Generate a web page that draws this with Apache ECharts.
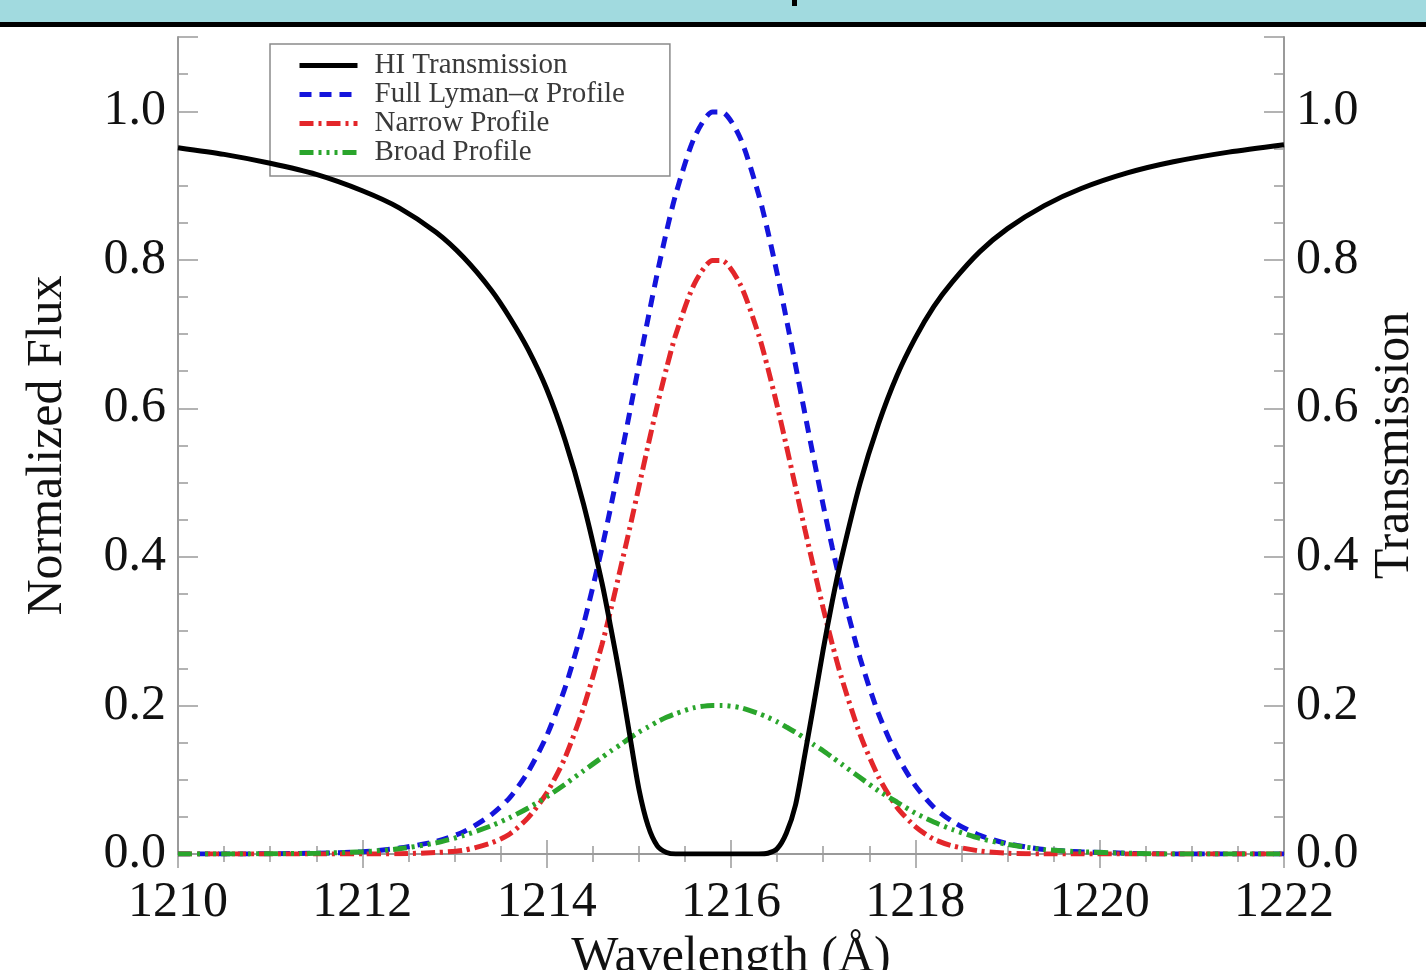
<!DOCTYPE html>
<html>
<head>
<meta charset="utf-8">
<script src="https://cdn.jsdelivr.net/npm/echarts@6/dist/echarts.min.js"></script>
<style>
  html, body { margin: 0; padding: 0; background: #fff; }
  #chart { width: 1426px; height: 970px; }
</style>
</head>
<body>
<div id="chart"></div>
<script>
// wavelength grid (Å), denser near the line core
const wavelength = [
  1210, 1210.5, 1211, 1211.5, 1212, 1212.4, 1212.8, 1213.1, 1213.4, 1213.6,
  1213.8, 1214.0, 1214.2, 1214.4, 1214.6, 1214.7, 1214.8, 1214.9, 1215.0, 1215.1,
  1215.2, 1215.3, 1215.4, 1215.6, 1215.8, 1215.9, 1216.1, 1216.3, 1216.4, 1216.5,
  1216.6, 1216.7, 1216.8, 1216.9, 1217.0, 1217.1, 1217.2, 1217.4, 1217.6, 1217.8,
  1218.0, 1218.2, 1218.4, 1218.7, 1219.0, 1219.4, 1219.8, 1220.3, 1220.8, 1221.4,
  1222
];

const hiTransmission = [
  0.951, 0.942, 0.930, 0.915, 0.893, 0.870, 0.837, 0.803, 0.759, 0.722,
  0.679, 0.626, 0.557, 0.471, 0.365, 0.302, 0.235, 0.161, 0.088, 0.038,
  0.011, 0.002, 0.000, 0.000, 0.000, 0.000, 0.000, 0.000, 0.001, 0.007,
  0.028, 0.066, 0.133, 0.203, 0.275, 0.341, 0.399, 0.499, 0.579, 0.644,
  0.695, 0.737, 0.770, 0.811, 0.842, 0.873, 0.896, 0.917, 0.932, 0.945,
  0.955
];

const fullProfile = [
  0, 0, 0.0003, 0.001, 0.003, 0.008, 0.017, 0.030, 0.053, 0.076,
  0.111, 0.159, 0.224, 0.309, 0.412, 0.470, 0.531, 0.594, 0.658, 0.721,
  0.782, 0.838, 0.888, 0.964, 0.999, 0.999, 0.964, 0.888, 0.838, 0.782,
  0.721, 0.658, 0.594, 0.531, 0.470, 0.412, 0.358, 0.264, 0.189, 0.133,
  0.092, 0.063, 0.044, 0.025, 0.014, 0.006, 0.003, 0.001, 0, 0,
  0
];

const narrowProfile = [
  0, 0, 0, 0, 0, 0.0003, 0.002, 0.005, 0.015, 0.027,
  0.049, 0.082, 0.130, 0.197, 0.282, 0.331, 0.384, 0.438, 0.494, 0.550,
  0.604, 0.654, 0.699, 0.767, 0.799, 0.799, 0.767, 0.699, 0.654, 0.604,
  0.550, 0.494, 0.438, 0.384, 0.331, 0.282, 0.237, 0.161, 0.104, 0.063,
  0.037, 0.020, 0.011, 0.004, 0.001, 0, 0, 0, 0, 0,
  0
];

const broadProfile = [
  0, 0, 0.0003, 0.001, 0.003, 0.007, 0.015, 0.025, 0.038, 0.049,
  0.062, 0.077, 0.094, 0.112, 0.130, 0.139, 0.147, 0.156, 0.164, 0.171,
  0.178, 0.184, 0.189, 0.197, 0.200, 0.200, 0.197, 0.189, 0.184, 0.178,
  0.171, 0.164, 0.156, 0.147, 0.139, 0.130, 0.121, 0.103, 0.085, 0.070,
  0.055, 0.043, 0.033, 0.021, 0.013, 0.006, 0.003, 0.001, 0, 0,
  0
];

const seriesNames = ["HI Transmission", "Full Lyman\u2013\u03b1 Profile", "Narrow Profile", "Broad Profile"];

const FONT = "Liberation Serif";
const AXIS_GRAY = "#9a9a9a";

function pairs(values) {
  return wavelength.map((w, i) => [w, values[i]]);
}

const chart = echarts.init(document.getElementById("chart"));

const xAxisBase = {
  type: "value",
  min: 1210,
  max: 1222,
  interval: 2,
  axisLine: { show: true, lineStyle: { color: AXIS_GRAY, width: 2 } },
  axisTick: { show: true, inside: true, length: 14, lineStyle: { color: AXIS_GRAY, width: 1.5 } },
  minorTick: { show: true, splitNumber: 4, length: 8, lineStyle: { color: AXIS_GRAY, width: 1.5 } },
  splitLine: { show: false },
};

const yAxisBase = {
  type: "value",
  min: 0,
  max: 1.1,
  interval: 0.2,
  axisLine: { show: true, lineStyle: { color: AXIS_GRAY, width: 2 } },
  axisTick: { show: true, inside: true, length: 20, lineStyle: { color: AXIS_GRAY, width: 1.5 } },
  minorTick: { show: true, splitNumber: 4, length: 10, lineStyle: { color: AXIS_GRAY, width: 1.5 } },
  splitLine: { show: false },
  axisLabel: {
    fontFamily: FONT,
    fontSize: 50,
    color: "#111",
    margin: 12,
    showMaxLabel: false,
    formatter: (v) => v.toFixed(1),
  },
  nameLocation: "middle",
  nameRotate: 90,
  nameTextStyle: { fontFamily: FONT, fontSize: 50, color: "#111" },
};

const option = {
  animation: false,
  backgroundColor: "#fff",
  graphic: [
    { type: "rect", left: 0, top: 0, shape: { width: 1426, height: 22 }, style: { fill: "#a1dadf" } },
    { type: "rect", left: 0, top: 22, shape: { width: 1426, height: 5 }, style: { fill: "#000" } },
    { type: "rect", left: 792, top: 0, shape: { width: 5, height: 6 }, style: { fill: "#000" } },
  ],
  grid: {
    left: 178,
    right: 142,
    top: 37,
    bottom: 116,
    containLabel: false,
    outerBoundsMode: "none",
  },
  legend: {
    data: seriesNames,
    orient: "vertical",
    left: 270,
    top: 44,
    itemWidth: 58,
    itemHeight: 10,
    itemGap: 0,
    padding: [7, 45, 9, 27],
    backgroundColor: "#fff",
    borderColor: "#8a8a8a",
    borderWidth: 1.5,
    borderRadius: 0,
    itemStyle: { opacity: 0 },
    lineStyle: { width: 5 },
    textStyle: {
      fontFamily: FONT,
      fontSize: 29,
      lineHeight: 29,
      color: "#3a3a3a",
      padding: [0, 0, 0, 12],
    },
  },
  xAxis: [
    Object.assign({}, xAxisBase, {
      position: "bottom",
      axisLabel: {
        fontFamily: FONT,
        fontSize: 50,
        color: "#111",
        margin: 24,
        formatter: (v) => String(v),
      },
      name: "Wavelength (\u00c5)",
      nameLocation: "middle",
      nameGap: 71,
      nameTextStyle: { fontFamily: FONT, fontSize: 50, color: "#111" },
    }),
    Object.assign({}, xAxisBase, {
      position: "top",
      axisLabel: { show: false },
    }),
  ],
  yAxis: [
    Object.assign({}, yAxisBase, { position: "left", name: "Normalized Flux", nameGap: 105 }),
    Object.assign({}, yAxisBase, { position: "right", name: "Transmission", nameGap: 84 }),
  ],
  series: [
    {
      name: seriesNames[0],
      type: "line",
      yAxisIndex: 1,
      data: pairs(hiTransmission),
      symbol: "none",
      smooth: 0.25,
      z: 5,
      lineStyle: { color: "#000", width: 5 },
      itemStyle: { color: "#000" },
    },
    {
      name: seriesNames[1],
      type: "line",
      data: pairs(fullProfile),
      symbol: "none",
      smooth: 0.25,
      lineStyle: { color: "#1414dc", width: 5, type: [12, 8] },
      itemStyle: { color: "#1414dc" },
    },
    {
      name: seriesNames[2],
      type: "line",
      data: pairs(narrowProfile),
      symbol: "none",
      smooth: 0.25,
      lineStyle: { color: "#e3262a", width: 5, type: [14, 5, 3, 5] },
      itemStyle: { color: "#e3262a" },
    },
    {
      name: seriesNames[3],
      type: "line",
      data: pairs(broadProfile),
      symbol: "none",
      smooth: 0.25,
      lineStyle: { color: "#2aa52c", width: 5, type: [14, 5, 3, 5, 3, 5, 3, 5] },
      itemStyle: { color: "#2aa52c" },
    },
  ],
};

chart.setOption(option);
</script>
</body>
</html>
